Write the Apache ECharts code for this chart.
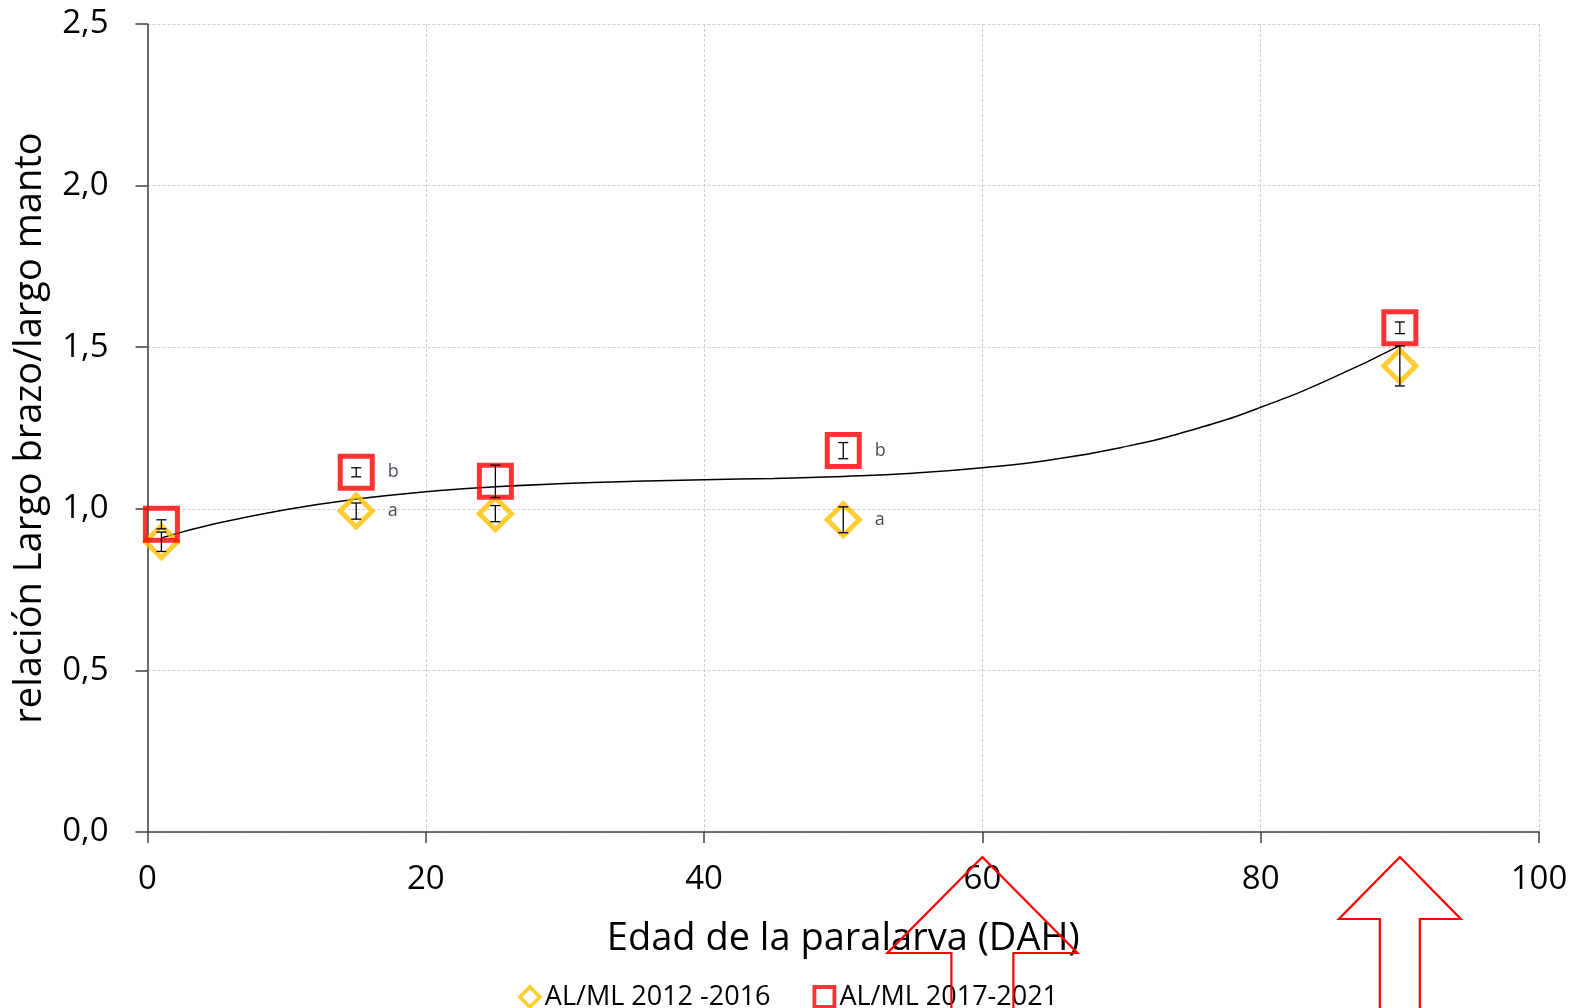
<!DOCTYPE html>
<html>
<head>
<meta charset="utf-8">
<title>Relación largo brazo / largo manto</title>
<script src="https://cdn.jsdelivr.net/npm/echarts@6/dist/echarts.min.js"></script>
<style>
  html, body { margin: 0; padding: 0; background: #ffffff; }
  #chart { width: 1576px; height: 1008px; }
</style>
</head>
<body>
<div id="chart"></div>
<script>
// Edad de la paralarva (días después de la eclosión)
const ageDays = [1, 15, 25, 50, 90];

// AL/ML 2012 -2016: media y error
const ratio2012 = [0.898, 0.993, 0.985, 0.966, 1.442];
const err2012 = [0.030, 0.025, 0.025, 0.040, 0.062];
const letters2012 = ['', 'a', '', 'a', ''];

// AL/ML 2017-2021: media y error
const ratio2017 = [0.952, 1.113, 1.085, 1.180, 1.560];
const err2017 = [0.014, 0.014, 0.050, 0.025, 0.018];
const letters2017 = ['', 'b', '', 'b', ''];

// Línea de tendencia
const trendAge = [1, 5, 10, 15, 20, 25, 30, 35, 40, 45, 50, 55, 60, 65, 70, 75, 80, 85, 90];
const trendRatio = [0.910, 0.955, 0.998, 1.030, 1.053, 1.068, 1.078, 1.085, 1.090, 1.094,
                    1.100, 1.110, 1.127, 1.152, 1.190, 1.243, 1.314, 1.402, 1.505];

// Etiquetas de los ejes
const xTickLabels = ['0', '20', '40', '60', '80', '100'];
const yTickLabels = ['0,0', '0,5', '1,0', '1,5', '2,0', '2,5'];

// Flechas de señalización (edad en la que apuntan)
const arrowAges = [60, 90];

const FONT = '"Open Sans", "Noto Sans", sans-serif';
const NAME_2012 = 'AL/ML 2012 -2016';
const NAME_2017 = 'AL/ML 2017-2021';

function pointData(values, letters) {
  return ageDays.map((x, i) => {
    const item = { value: [x, values[i]] };
    if (letters[i]) {
      item.label = { show: true, formatter: letters[i] };
    }
    return item;
  });
}

function errorData(values, errs) {
  return ageDays.map((x, i) => [x, values[i] - errs[i], values[i] + errs[i]]);
}

function renderErrorBar(params, api) {
  const x = api.value(0);
  const lo = api.coord([x, api.value(1)]);
  const hi = api.coord([x, api.value(2)]);
  const cap = 5;
  const style = { stroke: '#000', lineWidth: 1.3, fill: null };
  return {
    type: 'group',
    children: [
      { type: 'line', shape: { x1: lo[0], y1: lo[1], x2: hi[0], y2: hi[1] }, style },
      { type: 'line', shape: { x1: lo[0] - cap, y1: lo[1], x2: lo[0] + cap, y2: lo[1] }, style },
      { type: 'line', shape: { x1: hi[0] - cap, y1: hi[1], x2: hi[0] + cap, y2: hi[1] }, style }
    ]
  };
}

const chart = echarts.init(document.getElementById('chart'), null, { renderer: 'canvas' });

const letterLabel = {
  position: 'right',
  distance: 13,
  color: '#1a1a33',
  fontFamily: FONT,
  fontSize: 18
};

chart.setOption({
  animation: false,
  backgroundColor: '#ffffff',
  textStyle: { fontFamily: FONT },
  grid: { left: 147.5, right: 37, top: 24, bottom: 176 },
  legend: {
    data: [
      { name: NAME_2012, icon: 'diamond' },
      { name: NAME_2017, icon: 'rect' }
    ],
    left: 'center',
    top: 977,
    itemWidth: 20,
    itemHeight: 20,
    itemGap: 42,
    itemStyle: { borderWidth: 3.8 },
    textStyle: { fontFamily: FONT, fontSize: 27, color: '#000', lineHeight: 30 }
  },
  xAxis: {
    type: 'value',
    min: 0,
    max: 100,
    interval: 20,
    name: 'Edad de la paralarva (DAH)',
    nameLocation: 'middle',
    nameGap: 107,
    nameTextStyle: { fontFamily: FONT, fontSize: 38, color: '#000', verticalAlign: 'middle' },
    axisLine: { show: true, onZero: false, lineStyle: { color: '#404040', width: 1.5 } },
    axisTick: { show: true, length: 11, lineStyle: { color: '#404040', width: 1.5 } },
    axisLabel: {
      margin: 48,
      verticalAlign: 'middle',
      fontFamily: FONT,
      fontSize: 33,
      color: '#000',
      formatter: (v) => xTickLabels[Math.round(v / 20)]
    },
    splitLine: { show: true, lineStyle: { color: '#d0d0d0', width: 1, type: [3, 2] } }
  },
  yAxis: {
    type: 'value',
    min: 0,
    max: 2.5,
    interval: 0.5,
    name: 'relación Largo brazo/largo manto',
    nameLocation: 'middle',
    nameRotate: 90,
    nameGap: 117,
    nameTextStyle: { fontFamily: FONT, fontSize: 38, color: '#000', verticalAlign: 'middle' },
    axisLine: { show: true, onZero: false, lineStyle: { color: '#404040', width: 1.5 } },
    axisTick: { show: true, length: 12, lineStyle: { color: '#404040', width: 1.5 } },
    axisLabel: {
      margin: 39,
      fontFamily: FONT,
      fontSize: 33,
      color: '#000',
      formatter: (v) => yTickLabels[Math.round(v / 0.5)]
    },
    splitLine: { show: true, lineStyle: { color: '#d0d0d0', width: 1, type: [3, 2] } }
  },
  series: [
    {
      name: 'tendencia',
      type: 'line',
      data: trendAge.map((x, i) => [x, trendRatio[i]]),
      smooth: true,
      showSymbol: false,
      symbol: 'none',
      lineStyle: { color: '#000', width: 1.5 },
      z: 2,
      silent: true
    },
    {
      name: NAME_2012,
      type: 'scatter',
      symbol: 'diamond',
      symbolSize: 32,
      data: pointData(ratio2012, letters2012),
      itemStyle: { color: 'rgba(255,255,255,0)', borderColor: '#FFC000', borderWidth: 5 },
      label: letterLabel,
      z: 3
    },
    {
      name: NAME_2017,
      type: 'scatter',
      symbol: 'rect',
      symbolSize: 32,
      data: pointData(ratio2017, letters2017),
      itemStyle: { color: 'rgba(255,255,255,0)', borderColor: '#FF0000', borderWidth: 5, borderRadius: 2 },
      label: letterLabel,
      z: 4
    },
    {
      name: 'error 2012',
      type: 'custom',
      renderItem: renderErrorBar,
      data: errorData(ratio2012, err2012),
      encode: { x: 0, y: [1, 2] },
      z: 5,
      silent: true
    },
    {
      name: 'error 2017',
      type: 'custom',
      renderItem: renderErrorBar,
      data: errorData(ratio2017, err2017),
      encode: { x: 0, y: [1, 2] },
      z: 5,
      silent: true
    }
  ]
});

// Flechas rojas bajo el eje de abscisas
const arrowSpecs = [
  { headHalf: 95, headHeight: 96, shaftHalf: 31 },
  { headHalf: 61, headHeight: 62, shaftHalf: 20 }
];
const tipY = 857;
const bottomY = 1012;
const arrows = arrowAges.map((age, i) => {
  const cx = chart.convertToPixel({ xAxisIndex: 0 }, age);
  const s = arrowSpecs[i];
  const baseY = tipY + s.headHeight;
  return {
    type: 'polyline',
    z: 100,
    silent: true,
    shape: {
      points: [
        [cx - s.shaftHalf, bottomY],
        [cx - s.shaftHalf, baseY],
        [cx - s.headHalf, baseY],
        [cx, tipY],
        [cx + s.headHalf, baseY],
        [cx + s.shaftHalf, baseY],
        [cx + s.shaftHalf, bottomY]
      ]
    },
    style: { stroke: '#FF0000', lineWidth: 2.2, fill: null }
  };
});
chart.setOption({ graphic: arrows });
</script>
</body>
</html>
